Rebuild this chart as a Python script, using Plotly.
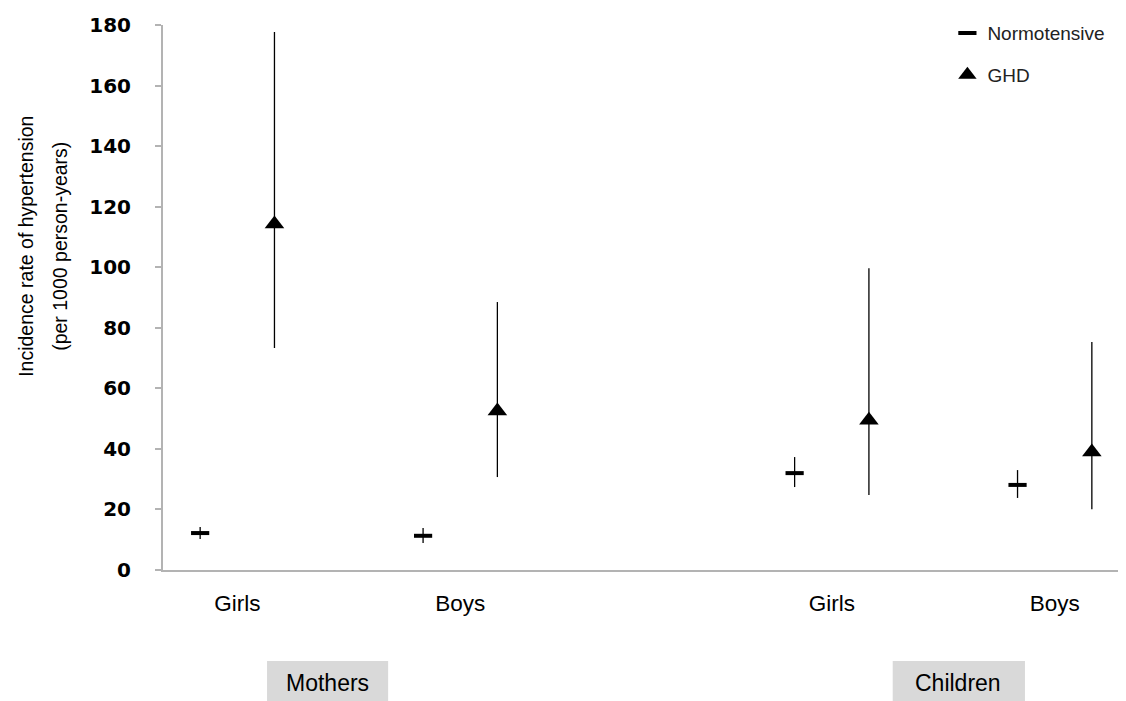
import plotly.graph_objects as go

# ---- data ----
groups = ["Mothers", "Children"]
categories = ["Girls", "Boys", "Girls", "Boys"]
cat_pos = [0, 3, 8, 11]          # category centre positions on the numeric x axis
series_offset = {"Normotensive": -0.5, "GHD": 0.5}

normo_rate = [12.2, 11.3, 32.0, 28.1]
normo_low = [10.2, 8.9, 27.4, 23.8]
normo_high = [14.2, 13.9, 37.3, 33.0]

ghd_rate = [114.3, 52.5, 49.5, 39.0]
ghd_low = [73.3, 30.7, 24.8, 20.1]
ghd_high = [177.7, 88.5, 99.7, 75.3]

y_ticks = [0, 20, 40, 60, 80, 100, 120, 140, 160, 180]
y_title_lines = ["Incidence rate of hypertension", "(per 1000 person-years)"]

# layout helpers (positions of group label boxes, in x-axis units)
group_boxes = [(0.40, 2.03, 1.22), (8.82, 10.60, 9.70)]

fig = go.Figure()


def add_series(name, rate, low, high, symbol, size, lw):
    xs = [p + series_offset[name] for p in cat_pos]
    fig.add_trace(go.Scatter(
        x=xs, y=rate, mode="markers", name=name, legendgroup=name,
        marker=dict(symbol=symbol, size=size, color="black",
                    line=dict(color="black", width=lw)),
        error_y=dict(type="data", symmetric=False,
                     array=[h - r for h, r in zip(high, rate)],
                     arrayminus=[r - l for r, l in zip(rate, low)],
                     color="black", thickness=1.3, width=0),
    ))


add_series("Normotensive", normo_rate, normo_low, normo_high, "line-ew", 13, 4)
add_series("GHD", ghd_rate, ghd_low, ghd_high, "triangle-up", 17, 0)

for g, (x0, x1, xc) in zip(groups, group_boxes):
    fig.add_shape(type="rect", xref="x", yref="paper", x0=x0, x1=x1,
                  y0=-0.26, y1=-0.167, fillcolor="#d9d9d9", line_width=0,
                  layer="below")
    fig.add_annotation(x=xc, xref="x", y=-0.207, yref="paper", yanchor="middle",
                       text=g, showarrow=False,
                       font=dict(family="Liberation Sans", size=23, color="black"))

for line, xp in zip(y_title_lines, [-0.1418, -0.1066]):
    fig.add_annotation(x=xp, xref="paper", y=0.593, yref="paper",
                       xanchor="center", yanchor="middle",
                       text=line, textangle=-90, showarrow=False,
                       font=dict(family="Liberation Sans", size=19.5, color="black"))

fig.update_layout(
    width=1126, height=701,
    margin=dict(l=155, r=5, t=17, b=139),
    plot_bgcolor="white", paper_bgcolor="white",
    showlegend=True,
    legend=dict(x=0.812, y=1.02, xanchor="left", yanchor="top",
                tracegroupgap=14, bgcolor="rgba(0,0,0,0)", itemwidth=30,
                font=dict(family="Liberation Sans", size=19, color="#222")),
    xaxis=dict(range=[-1, 12], tickmode="array", tickvals=cat_pos,
               ticktext=categories, showgrid=False, zeroline=False,
               showline=True, linecolor="#b3b3b3", linewidth=2, ticks="",
               ticklabelstandoff=12,
               tickfont=dict(family="Liberation Sans", size=22.5, color="black")),
    yaxis=dict(range=[0, 180], tickmode="array", tickvals=y_ticks,
               showgrid=False, zeroline=False, showline=True,
               linecolor="#b3b3b3", linewidth=2, ticks="outside",
               ticklen=6, tickcolor="#b3b3b3", tickwidth=1.5,
               ticklabelstandoff=20,
               tickfont=dict(family="DejaVu Sans", size=20, color="black",
                             weight="bold")),
)

fig.write_html("out.html")
